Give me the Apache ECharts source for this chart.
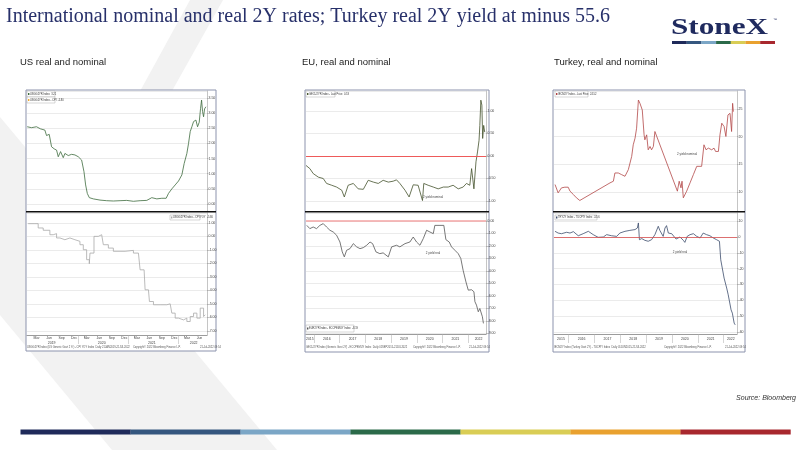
<!DOCTYPE html>
<html>
<head>
<meta charset="utf-8">
<script src="https://cdn.jsdelivr.net/npm/echarts@6/dist/echarts.min.js"></script>
<style>
  html, body { margin: 0; padding: 0; background: #fff; }
  #chart { width: 800px; height: 450px; }
</style>
</head>
<body>
<div id="chart"></div>
<script>
// ---- data ----
// US: x = months since Jan 2019
const usNominal = [
  [-0.26, 2.55], [0.78, 2.52], [1.98, 2.55], [2.94, 2.48], [3.98, 2.44], [4.38, 2.26], [5.02, 2.30],
  [5.58, 1.89], [6.22, 1.82], [6.78, 1.78], [7.18, 1.56], [7.74, 1.73], [8.38, 1.53], [8.78, 1.67],
  [9.58, 1.60], [10.38, 1.64], [11.18, 1.62], [11.98, 1.56], [12.78, 1.45], [13.34, 1.07], [13.74, 0.63],
  [14.14, 0.35], [14.62, 0.21], [15.58, 0.17], [17.18, 0.13], [18.78, 0.11], [20.38, 0.10], [21.98, 0.11],
  [23.58, 0.12], [25.18, 0.09], [26.78, 0.11], [28.38, 0.12], [29.58, 0.21], [30.78, 0.17], [31.98, 0.19],
  [33.02, 0.19], [33.58, 0.35], [34.38, 0.50], [35.18, 0.63], [35.98, 0.76], [36.78, 0.96], [37.34, 1.34],
  [37.98, 1.67], [38.38, 2.00], [38.78, 2.39], [39.18, 2.55], [39.58, 2.72], [40.14, 2.77], [40.54, 2.55],
  [40.94, 2.70], [41.26, 3.16], [41.50, 3.43], [41.74, 3.05], [41.98, 2.88], [42.22, 3.14], [42.54, 3.21]
];
const usReal = [
  [-0.02, 0.95], [1.58, 0.95], [2.38, 0.63], [3.58, 0.46], [5.18, 0.13], [5.98, 0.21], [6.78, -0.11],
  [7.58, -0.24], [8.78, -0.11], [9.98, -0.24], [11.18, -0.36], [12.38, -0.61], [13.18, -0.98], [13.98, -1.72],
  [14.62, -2.02], [14.78, -1.23], [15.74, 0.01], [16.78, 0.13], [17.58, 0.01], [17.98, -0.61], [19.18, -0.86],
  [20.38, -1.10], [21.98, -1.10], [23.18, -1.03], [25.18, -1.23], [26.38, -1.35], [26.78, -2.47], [27.74, -2.59],
  [27.98, -3.95], [28.78, -4.07], [29.02, -4.82], [29.98, -5.06], [31.58, -5.06], [33.18, -4.99], [33.98, -4.89],
  [34.38, -5.68], [35.18, -6.05], [35.98, -6.18], [37.18, -6.05], [37.98, -6.30], [38.78, -5.93], [39.58, -5.68],
  [40.38, -6.05], [41.18, -5.31], [41.98, -5.93], [42.38, -5.80]
];
// EU: x = year
const euNominal = [
  [2015.69, -0.21], [2015.84, -0.28], [2015.97, -0.39], [2016.17, -0.47], [2016.36, -0.50], [2016.49, -0.61],
  [2016.69, -0.65], [2016.88, -0.69], [2017.08, -0.76], [2017.18, -0.91], [2017.33, -0.65], [2017.53, -0.61],
  [2017.72, -0.73], [2017.92, -0.74], [2018.11, -0.54], [2018.31, -0.58], [2018.50, -0.61], [2018.69, -0.54],
  [2018.89, -0.58], [2019.08, -0.56], [2019.21, -0.53], [2019.34, -0.61], [2019.54, -0.76], [2019.70, -0.91],
  [2019.86, -0.64], [2020.05, -0.65], [2020.22, -0.99], [2020.27, -0.61], [2020.44, -0.65], [2020.64, -0.69],
  [2020.83, -0.73], [2021.03, -0.69], [2021.22, -0.69], [2021.41, -0.65], [2021.61, -0.73], [2021.80, -0.69],
  [2021.93, -0.61], [2022.06, -0.65], [2022.13, -0.28], [2022.22, -0.73], [2022.30, -0.13], [2022.36, 0.09],
  [2022.42, 0.35], [2022.45, 0.68], [2022.49, 1.24], [2022.53, 1.13], [2022.56, 0.39], [2022.60, 0.68], [2022.64, 0.53]
];
const euReal = [
  [2015.72, -0.35], [2015.84, -0.61], [2015.97, -0.48], [2016.10, -0.61], [2016.23, -0.35], [2016.36, -0.21],
  [2016.49, -0.48], [2016.62, -0.74], [2016.75, -0.88], [2016.88, -1.14], [2017.01, -1.68], [2017.10, -2.47],
  [2017.18, -2.87], [2017.27, -2.34], [2017.40, -2.21], [2017.53, -1.81], [2017.66, -2.07], [2017.79, -2.21],
  [2017.92, -2.13], [2018.05, -1.94], [2018.18, -1.68], [2018.28, -1.81], [2018.41, -2.47], [2018.56, -2.61],
  [2018.69, -2.55], [2018.89, -2.87], [2019.02, -2.07], [2019.21, -1.94], [2019.34, -2.07], [2019.54, -1.81],
  [2019.73, -1.68], [2019.86, -1.28], [2019.99, -1.68], [2020.12, -1.94], [2020.25, -1.41], [2020.38, -0.74],
  [2020.51, -0.88], [2020.64, -1.01], [2020.70, -0.35], [2020.90, -0.35], [2021.05, -0.35], [2021.13, -1.49],
  [2021.26, -1.68], [2021.35, -2.07], [2021.48, -2.34], [2021.61, -2.61], [2021.71, -3.00], [2021.80, -3.94],
  [2021.91, -4.87], [2022.00, -5.53], [2022.13, -5.50], [2022.22, -5.66], [2022.26, -6.46], [2022.32, -6.73],
  [2022.39, -7.26], [2022.45, -7.00], [2022.52, -6.86], [2022.55, -7.66], [2022.59, -8.19]
];
// Turkey: x = year
const trNominal = [
  [2015.47, 11.35], [2015.59, 9.85], [2015.72, 10.75], [2015.85, 10.87], [2015.98, 10.87], [2016.05, 10.15],
  [2016.18, 9.55], [2016.30, 8.95], [2016.43, 8.47], [2017.60, 11.65], [2017.73, 11.95], [2017.79, 13.44],
  [2017.92, 13.44], [2018.05, 13.14], [2018.18, 12.84], [2018.31, 14.04], [2018.37, 14.34], [2018.44, 16.44],
  [2018.50, 18.53], [2018.57, 19.73], [2018.63, 21.53], [2018.70, 26.62], [2018.76, 26.02], [2018.85, 24.82],
  [2018.92, 20.33], [2018.95, 19.43], [2019.02, 20.33], [2019.08, 17.63], [2019.15, 18.23], [2019.21, 17.63],
  [2019.28, 18.23], [2019.34, 20.93], [2019.40, 20.63], [2020.21, 10.15], [2020.28, 11.95], [2020.35, 10.75],
  [2020.39, 11.95], [2020.44, 8.95], [2020.57, 10.15], [2020.70, 11.65], [2020.83, 13.14], [2020.96, 14.64],
  [2021.15, 14.64], [2021.24, 18.53], [2021.32, 17.63], [2021.41, 17.93], [2021.54, 17.63], [2021.63, 17.93],
  [2021.69, 17.33], [2021.80, 17.33], [2021.86, 20.33], [2021.93, 22.43], [2022.02, 21.83], [2022.09, 20.03],
  [2022.17, 23.92], [2022.25, 24.22], [2022.31, 20.93], [2022.35, 26.02], [2022.38, 24.52]
];
const trReal = [
  [2015.47, 3.6], [2015.59, 2.5], [2015.72, 2.1], [2015.92, 3.0], [2016.05, 2.5], [2016.18, 3.4], [2016.37, 0.8],
  [2016.56, 2.1], [2016.76, 3.6], [2016.95, 1.5], [2017.14, -0.2], [2017.34, 0.0], [2017.47, 1.5], [2017.66, 0.8],
  [2017.86, 0.4], [2017.98, 2.5], [2018.18, 3.6], [2018.37, 4.2], [2018.57, 4.7], [2018.66, 5.7], [2018.70, 8.9],
  [2018.74, -1.7], [2018.83, -1.0], [2018.95, -2.1], [2019.08, -2.7], [2019.21, -1.7], [2019.34, 1.5], [2019.47, 6.8],
  [2019.53, 4.2], [2019.66, 0.4], [2019.73, 5.7], [2019.79, 7.2], [2019.86, 2.5], [2019.99, 2.1], [2020.16, -1.3],
  [2020.31, 0.0], [2020.44, -2.1], [2020.50, -3.4], [2020.59, 0.4], [2020.70, 1.5], [2020.83, 2.1], [2020.96, 0.4],
  [2021.09, -0.6], [2021.21, 2.5], [2021.34, 1.5], [2021.47, 0.8], [2021.60, -0.6], [2021.73, -1.7], [2021.84, -2.7],
  [2021.89, -14.4], [2021.96, -13.3], [2022.02, -26.0], [2022.08, -27.1], [2022.12, -32.3], [2022.18, -36.6],
  [2022.25, -37.6], [2022.29, -46.1], [2022.34, -48.2], [2022.38, -48.2], [2022.41, -54.5], [2022.45, -55.6]
];

// tick labels
const monthNames = ['Jan', 'Feb', 'Mar', 'Apr', 'May', 'Jun', 'Jul', 'Aug', 'Sep', 'Oct', 'Nov', 'Dec'];
const usMonthTicks = [2, 5, 8, 11, 14, 17, 20, 23, 26, 29, 32, 35, 38, 41];
const usYearTicks = [5.6, 17.6, 29.6, 39.6];
const usYearBreaks = [12, 24, 36];
const euYearTicks = [2015.84, 2016.5, 2017.5, 2018.5, 2019.5, 2020.5, 2021.5, 2022.4];
const euYearBreaks = [2016, 2017, 2018, 2019, 2020, 2021, 2022];
const trYearTicks = [2015.7, 2016.5, 2017.5, 2018.5, 2019.5, 2020.5, 2021.5, 2022.28];
const trYearBreaks = [2016, 2017, 2018, 2019, 2020, 2021, 2022];

const stripeColors = ['#1f2a5a', '#35577f', '#7ba6c6', '#2b6a49', '#d9cd55', '#e9a12f', '#a8282e'];

const chart = echarts.init(document.getElementById('chart'));

const tiny = 'Liberation Sans';

function grid(left, top, width, height) {
  return { left, top, width, height, outerBoundsMode: 'none', containLabel: false };
}

function yAxis(gi, min, max, split, digits) {
  return {
    type: 'value', gridIndex: gi, position: 'right', min, max, splitNumber: split,
    axisLine: { show: true, onZero: false, lineStyle: { color: '#8a8a8a', width: 0.5 } },
    axisTick: { show: true, length: 1.5, lineStyle: { color: '#8a8a8a', width: 0.5 } },
    axisLabel: {
      fontSize: 3.5, color: '#444', margin: 1.5, fontFamily: tiny,
      showMinLabel: false, showMaxLabel: false,
      formatter: v => v.toFixed(digits)
    },
    splitLine: { show: true, lineStyle: { color: '#dedede', width: 0.6 } }
  };
}

function hiddenX(gi, min, max) {
  return { type: 'value', gridIndex: gi, min, max, show: false, axisLine: { onZero: false } };
}

function yearX(gi, min, max, labels, breaks) {
  return {
    type: 'value', gridIndex: gi, min, max,
    axisLine: { show: true, onZero: false, lineStyle: { color: '#666', width: 0.6 } },
    axisTick: { show: true, customValues: breaks, length: 9, lineStyle: { color: '#aaa', width: 0.5 } },
    axisLabel: {
      customValues: labels, fontSize: 3.5, color: '#444', margin: 3, fontFamily: tiny,
      formatter: v => String(Math.floor(v))
    },
    splitLine: { show: false }
  };
}

function line(xi, yi, data, color, step) {
  return {
    type: 'line', xAxisIndex: xi, yAxisIndex: yi, data, step: step || false,
    symbol: 'none', showSymbol: false, animation: false,
    lineStyle: { color, width: 0.8 }
  };
}

function zeroLine(color, width) {
  return {
    silent: true, symbol: 'none', label: { show: false },
    lineStyle: { color, width, type: 'solid' },
    data: [{ yAxis: 0 }]
  };
}

// decorations
function frame(x, y, w, h) {
  return { type: 'rect', z: -5, shape: { x, y, width: w, height: h }, style: { fill: '#fff', stroke: '#8c93ad', lineWidth: 1 } };
}
function divider(x, y, w) {
  return { type: 'rect', z: 20, shape: { x, y, width: w, height: 1.6 }, style: { fill: '#111' } };
}
function txt(x, y, text, size, color, extra) {
  return Object.assign({ type: 'text', z: 30, x, y, style: Object.assign({ text, fontSize: size, fontFamily: tiny, fill: color }, extra || {}) });
}
function legendBox(x, y, w, h, marker, text) {
  return {
    type: 'group', z: 30, children: [
      { type: 'rect', z: 30, shape: { x, y, width: w, height: h }, style: { fill: '#fff', stroke: '#999', lineWidth: 0.4 } },
      { type: 'rect', z: 31, shape: { x: x + 1, y: y + h / 2 - 1, width: 1.4, height: 2 }, style: { fill: marker } },
      { type: 'text', z: 31, x: x + 3, y: y + h / 2, style: { text, fontSize: 2.6, fontFamily: tiny, fill: '#333', verticalAlign: 'middle' } }
    ]
  };
}

const graphics = [
  { type: 'polygon', z: -10, shape: { points: [[190, 0], [223, 0], [94, 230], [277, 450], [112, 450], [0, 315], [0, 117], [76, 208]] }, style: { fill: '#f2f2f2' } },
  txt(6, 17, 'International nominal and real 2Y rates; Turkey real 2Y yield at minus 55.6', 20, '#27306a',
    { fontFamily: 'Liberation Serif', verticalAlign: 'middle' }),
  { type: 'text', z: 30, x: 671, y: 28, scaleX: 1.3, style: { text: 'StoneX', fontSize: 24, fontWeight: 'bold', fontFamily: 'Liberation Serif', fill: '#1f2a5e', verticalAlign: 'middle' } },
  txt(773, 18, '\u2122', 4, '#1f2a5e'),
  txt(20, 62, 'US real and nominal', 9.5, '#222', { verticalAlign: 'middle' }),
  txt(302, 62, 'EU, real and nominal', 9.5, '#222', { verticalAlign: 'middle' }),
  txt(554, 62, 'Turkey, real and nominal', 9.5, '#222', { verticalAlign: 'middle' }),
  txt(796, 398, 'Source: Bloomberg', 7, '#333', { align: 'right', verticalAlign: 'middle', fontStyle: 'italic' }),

  frame(26, 90, 190, 261), divider(26, 211, 190),
  frame(305, 90, 184, 262), divider(305, 211, 184),
  frame(553, 90, 192, 262), divider(553, 211, 192),

  // US panel notes
  legendBox(27, 91, 28, 6, '#3d6b3d', 'USGG2YR Index  3.21'),
  legendBox(27, 97, 28, 6, '#f0a830', 'USGG2YR Index - CPI  -5.80'),
  legendBox(170, 215, 30, 5, '#aaa', 'USGG2YR Index - CPI YOY  -5.80'),
  txt(27, 346, 'USGG2YR Index (US Generic Govt 2 Yr) - CPI YOY Index  Daily 21JAN2019-21JUL2022', 2.6, '#555'),
  txt(133, 346, 'Copyright\u00a9 2022 Bloomberg Finance L.P.', 2.6, '#555'),
  txt(200, 346, '21-Jul-2022 09:54', 2.6, '#555'),

  // EU panel notes
  legendBox(306, 91, 29, 6, '#4a5a30', 'GECU2YR Index - Last Price  0.53'),
  legendBox(306, 325, 48, 7, '#555', 'EUR2YR Index - ECCPEMUY Index  -8.19'),
  txt(433, 197, '2 yield nominal', 3, '#444', { align: 'center', verticalAlign: 'middle' }),
  txt(433, 253, '2 yield real', 3, '#444', { align: 'center', verticalAlign: 'middle' }),
  txt(306, 346, 'GECU2YR Index (Generic Govt 2Y) - ECCPEMUY Index  Daily 01SEP2015-21JUL2022', 2.6, '#555'),
  txt(413, 346, 'Copyright\u00a9 2022 Bloomberg Finance L.P.', 2.6, '#555'),
  txt(469, 346, '21-Jul-2022 09:54', 2.6, '#555'),

  // Turkey panel notes
  legendBox(555, 91, 33, 6, '#b04040', 'IECM2Y Index - Last Price  24.52'),
  legendBox(555, 215, 42, 5, '#3c4c6c', 'TRY2Y Index - TUCPIY Index  -55.6'),
  txt(687, 154, '2 yield nominal', 3, '#444', { align: 'center', verticalAlign: 'middle' }),
  txt(680, 252, '2 yield real', 3, '#444', { align: 'center', verticalAlign: 'middle' }),
  txt(554, 346, 'IECM2Y Index (Turkey Govt 2Y) - TUCPIY Index  Daily 01JUN2015-21JUL2022', 2.6, '#555'),
  txt(664, 346, 'Copyright\u00a9 2022 Bloomberg Finance L.P.', 2.6, '#555'),
  txt(725, 346, '21-Jul-2022 09:54', 2.6, '#555')
];

// colour stripes under the logo and at the foot of the slide
stripeColors.forEach((c, i) => {
  graphics.push({ type: 'rect', z: 30, shape: { x: 672 + i * 14.7, y: 41, width: 14.8, height: 3 }, style: { fill: c } });
  graphics.push({ type: 'rect', z: 30, shape: { x: 20.5 + i * 110, y: 429.5, width: 110.2, height: 5 }, style: { fill: c } });
});

const usMin = -0.3, usMax = 42.8;
const euMin = 2015.69, euMax = 2022.69;
const trMin = 2015.43, trMax = 2022.52;

const option = {
  backgroundColor: '#fff',
  animation: false,
  graphic: { elements: graphics },
  grid: [
    grid(27, 91, 180, 120),   // 0 US nominal
    grid(27, 213, 180, 122),  // 1 US real
    grid(306, 91, 180, 120),  // 2 EU nominal
    grid(306, 213, 180, 121), // 3 EU real
    grid(554, 91, 183, 120),  // 4 TR nominal
    grid(554, 213, 183, 121)  // 5 TR real
  ],
  xAxis: [
    hiddenX(0, usMin, usMax),
    {
      type: 'value', gridIndex: 1, min: usMin, max: usMax,
      axisLine: { show: true, onZero: false, lineStyle: { color: '#666', width: 0.6 } },
      axisTick: { show: true, customValues: usYearBreaks, length: 9, lineStyle: { color: '#aaa', width: 0.5 } },
      axisLabel: {
        customValues: usMonthTicks, fontSize: 3.5, color: '#444', margin: 1.5, fontFamily: tiny,
        formatter: v => monthNames[((Math.round(v) % 12) + 12) % 12]
      },
      splitLine: { show: false }
    },
    {
      type: 'value', gridIndex: 1, min: usMin, max: usMax, position: 'bottom', offset: 5,
      axisLine: { show: false, onZero: false }, axisTick: { show: false },
      axisLabel: {
        customValues: usYearTicks, fontSize: 3.5, color: '#444', margin: 1.5, fontFamily: tiny,
        formatter: v => String(2019 + Math.floor(v / 12))
      },
      splitLine: { show: false }
    },
    hiddenX(2, euMin, euMax),
    yearX(3, euMin, euMax, euYearTicks, euYearBreaks),
    hiddenX(4, trMin, trMax),
    yearX(5, trMin, trMax, trYearTicks, trYearBreaks)
  ],
  yAxis: [
    yAxis(0, -0.23, 3.73, 8, 2),
    yAxis(1, -7.3, 1.74, 9, 2),
    yAxis(2, -1.222, 1.444, 5, 2),
    yAxis(3, -9.04, 0.64, 9, 2),
    yAxis(4, 6.57, 28.25, 4, 0),
    yAxis(5, -61.4, 15.2, 8, 0)
  ],
  series: [
    line(0, 0, usNominal, '#3d6b3d'),
    line(1, 1, usReal, '#a9a9a9', 'end'),
    Object.assign(line(3, 2, euNominal, '#44522c'), { markLine: zeroLine('#ee5a5a', 1) }),
    Object.assign(line(4, 3, euReal, '#555555'), { markLine: zeroLine('#f3a5a5', 1.6) }),
    line(5, 4, trNominal, '#b24848'),
    Object.assign(line(6, 5, trReal, '#3c4c6c'), { markLine: zeroLine('#d85050', 0.8) })
  ]
};

chart.setOption(option);
</script>
</body>
</html>
